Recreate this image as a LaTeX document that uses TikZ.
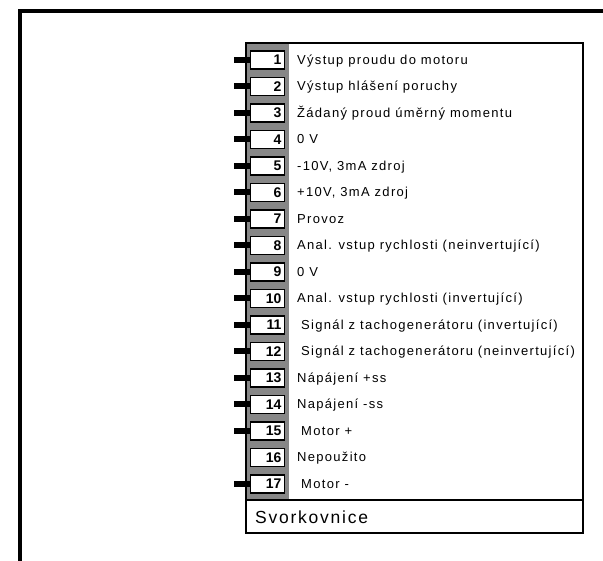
\documentclass[tikz,border=0pt]{standalone}
\usepackage{fontspec}
\setmainfont{Liberation Sans}
\newfontfamily\spacedfont[LetterSpace=10]{Liberation Sans}
\usepackage{tikz}
\definecolor{stripgray}{HTML}{878787}
\tikzstyle{frame}=[line width=4.5pt]
\tikzstyle{boardline}=[line width=2.5pt]
\tikzstyle{pin}=[line width=6pt]
\tikzstyle{terminal}=[draw, line width=1.8pt, fill=white, inner xsep=3pt, inner ysep=0pt, text width=28pt, align=right, minimum height=18pt, font=\bfseries\fontsize{14}{14}\selectfont]
\tikzstyle{signal}=[anchor=base west, inner sep=0pt, font=\spacedfont\fontsize{13}{13}\selectfont]
\tikzstyle{title}=[anchor=base west, inner sep=0pt, font=\spacedfont\fontsize{17.5}{17.5}\selectfont]

\begin{document}
\begin{tikzpicture}[x=1pt, y=-1pt]
        \useasboundingbox (0,0) rectangle (603,561);
        \draw[frame] (20,561) -- (20,11) -- (603,11);
        \fill[stripgray] (246,43) rectangle (289,500);
        \draw[boardline] (246,43) rectangle (583,533);
        \draw[boardline] (246,500) -- (583,500);
        \node[title] (name) at (255,523) {Svorkovnice};
        \node[terminal] (T1) at (267.5,60) {1};
        \node[terminal] (T2) at (267.5,86.5) {2};
        \node[terminal] (T3) at (267.5,113) {3};
        \node[terminal] (T4) at (267.5,139.5) {4};
        \node[terminal] (T5) at (267.5,166) {5};
        \node[terminal] (T6) at (267.5,192.5) {6};
        \node[terminal] (T7) at (267.5,219) {7};
        \node[terminal] (T8) at (267.5,245.5) {8};
        \node[terminal] (T9) at (267.5,272) {9};
        \node[terminal] (T10) at (267.5,298.5) {10};
        \node[terminal] (T11) at (267.5,325) {11};
        \node[terminal] (T12) at (267.5,351.5) {12};
        \node[terminal] (T13) at (267.5,378) {13};
        \node[terminal] (T14) at (267.5,404.5) {14};
        \node[terminal] (T15) at (267.5,431) {15};
        \node[terminal] (T16) at (267.5,457.5) {16};
        \node[terminal] (T17) at (267.5,484) {17};
        \foreach \i in {1,...,15,17}
            \draw[pin] (T\i.west) -- +(-16,0);
        \node[signal] (L1) at (297,64.5) {Výstup proudu do motoru};
        \node[signal] (L2) at (297,91) {Výstup hlášení poruchy};
        \node[signal] (L3) at (297,117.5) {Žádaný proud úměrný momentu};
        \node[signal] (L4) at (297,144) {0 V};
        \node[signal] (L5) at (297,170.5) {-10V, 3mA zdroj};
        \node[signal] (L6) at (297,197) {+10V, 3mA zdroj};
        \node[signal] (L7) at (297,223.5) {Provoz};
        \node[signal] (L8) at (297,250) {Anal. vstup rychlosti (neinvertující)};
        \node[signal] (L9) at (297,276.5) {0 V};
        \node[signal] (L10) at (297,303) {Anal. vstup rychlosti (invertující)};
        \node[signal] (L11) at (301,329.5) {Signál z tachogenerátoru (invertující)};
        \node[signal] (L12) at (301,356) {Signál z tachogenerátoru (neinvertující)};
        \node[signal] (L13) at (297,382.5) {Nápájení +ss};
        \node[signal] (L14) at (297,409) {Napájení -ss};
        \node[signal] (L15) at (301,435.5) {Motor +};
        \node[signal] (L16) at (297,462) {Nepoužito};
        \node[signal] (L17) at (301,488.5) {Motor -};
    \end{tikzpicture}
\end{document}
